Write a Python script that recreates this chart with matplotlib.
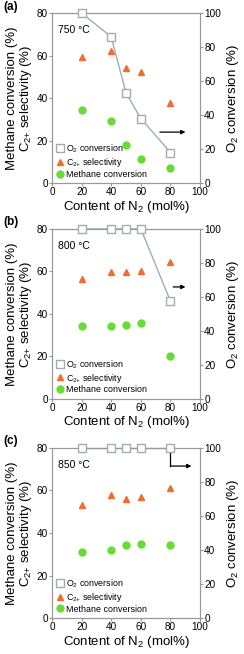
import numpy as np
import matplotlib.pyplot as plt

plt.rcParams['font.family'] = ['Liberation Sans', 'DejaVu Sans']
plt.rcParams['mathtext.fontset'] = 'custom'
plt.rcParams['mathtext.rm'] = 'Liberation Sans'
plt.rcParams['mathtext.it'] = 'Liberation Sans:italic'

# data
n2 = [20, 40, 50, 60, 80]
temps = ["750 °C", "800 °C", "850 °C"]
labels = ["(a)", "(b)", "(c)"]
o2_conv = [[100, 86, 53, 38, 18],
           [100, 100, 100, 100, 57.5],
           [100, 100, 100, 100, 100]]
c2_sel = [[59.5, 62, 54, 52.5, 37.5],
          [56.5, 59.5, 59.5, 60, 64.5],
          [53, 58, 56, 57, 61]]
ch4_conv = [[34.5, 29, 18, 11.5, 7],
            [34.5, 34.5, 35, 35.5, 20],
            [31, 32, 34.5, 35, 34.5]]

grey = "#a3abb3"
orange = "#f26d2c"
green = "#66dd33"
spine = "#999999"
c2p = r"C$_{\mathregular{2{+}}}$"

fig = plt.figure(figsize=(2.44, 6.54), dpi=100)
bottoms = [0.720, 0.390, 0.055]

for i in range(3):
    ax = fig.add_axes([0.213, bottoms[i], 0.607, 0.260])
    ax2 = ax.twinx()
    ax.set_zorder(ax2.get_zorder() + 1)
    ax.patch.set_visible(False)

    ax2.plot(n2, o2_conv[i], color=grey, lw=1, zorder=1, clip_on=False)
    ax2.set_ylim(0, 100)
    ax2.set_yticks([0, 20, 40, 60, 80, 100])

    # O2 squares drawn on left axis (scaled 100 -> 80) so the legend holds all three
    sq = [v * 0.8 for v in o2_conv[i]]
    ax.plot(n2, sq, ls='none', marker='s', ms=5.5, mfc='white', mec=grey, mew=1,
            label="O$_2$ conversion", zorder=3, clip_on=False)
    ax.plot(n2, c2_sel[i], ls='none', marker='^', ms=5, color=orange,
            label=c2p + " selectivity", zorder=3)
    ax.plot(n2, ch4_conv[i], ls='none', marker='o', ms=5, color=green,
            label="Methane conversion", zorder=3)

    ax.set_xlim(0, 100)
    ax.set_ylim(0, 80)
    ax.set_xticks([0, 20, 40, 60, 80, 100])
    ax.set_yticks([0, 20, 40, 60, 80])
    for a in (ax, ax2):
        for s in a.spines.values():
            s.set_color(spine)
        a.tick_params(direction='out', length=2, color=spine, labelsize=7.2, pad=1)

    ax.set_xlabel("Content of N$_2$ (mol%)", fontsize=9.5, labelpad=1)
    ax.set_ylabel("Methane conversion (%)\n" + c2p + " selectivity (%)", fontsize=9.5,
                  labelpad=2, linespacing=1.0)
    ax2.set_ylabel("O$_2$ conversion (%)", fontsize=9.5, labelpad=3)

    ax.text(0.04, 0.90, temps[i], transform=ax.transAxes, fontsize=7.5, va='center')
    fig.text(0.015, bottoms[i] + 0.27, labels[i], fontsize=8.5, fontweight='bold', va='center')

    ax.legend(loc='lower left', fontsize=6.4, frameon=False, handlelength=0.8,
              handletextpad=0.3, labelspacing=0.1, borderaxespad=0.3,
              borderpad=0.2)

    if i == 0:
        ax.annotate("", xy=(92, 24), xytext=(71, 24),
                    arrowprops=dict(arrowstyle='-|>', color='black', lw=0.9,
                                    mutation_scale=6))
    elif i == 1:
        ax.annotate("", xy=(92, 52.7), xytext=(80, 52.7),
                    arrowprops=dict(arrowstyle='-|>', color='black', lw=0.9,
                                    mutation_scale=6))
    else:
        ax.plot([80, 80], [78, 71.5], color='black', lw=0.9)
        ax.annotate("", xy=(96, 71.5), xytext=(80, 71.5),
                    arrowprops=dict(arrowstyle='-|>', color='black', lw=0.9,
                                    mutation_scale=6, shrinkA=0))

fig.savefig("out.png", dpi=100)
